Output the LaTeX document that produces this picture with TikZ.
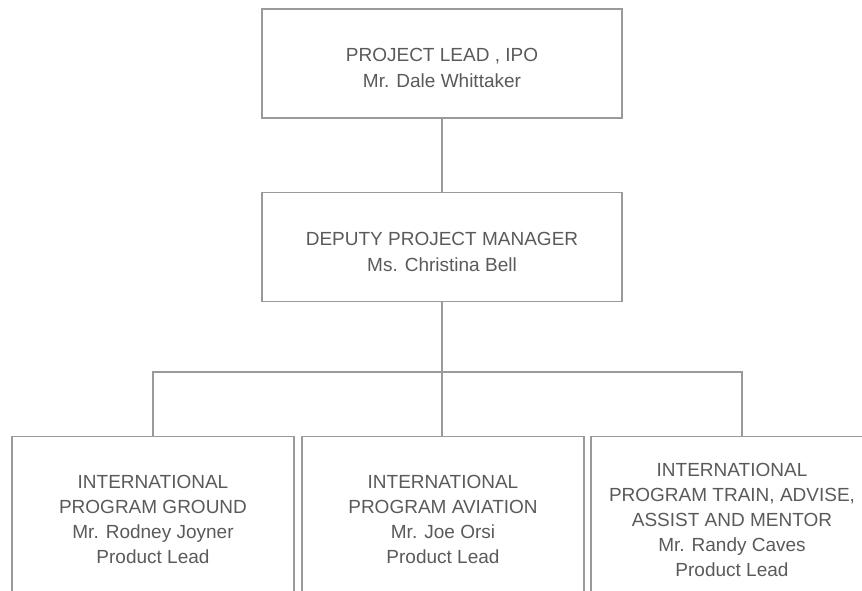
\documentclass[tikz,border=0pt]{standalone}
\usepackage{fontspec}
\setmainfont{Liberation Sans}
\usetikzlibrary{positioning}
\definecolor{linegray}{HTML}{9A9A9A}
\definecolor{textgray}{HTML}{5A5A5A}

\begin{document}
\begin{tikzpicture}[
  x=1pt, y=1pt,
  line width=1.5pt,
  font=\fontsize{19}{26}\selectfont,
  box/.style={
     rectangle,
     draw=linegray,
     text=textgray,
     align=center,
     inner sep=0pt,
     minimum width=360pt,
     minimum height=109pt,
     text height=48pt,
     text depth=0pt
  },
  unit/.style={
     rectangle,
     draw=linegray,
     text=textgray,
     align=center,
     inner sep=0pt,
     minimum width=282pt,
     minimum height=166pt,
     font=\fontsize{19}{25}\selectfont
  },
  link/.style={draw=linegray},
  node distance=73pt
]
   \useasboundingbox (0,0) rectangle (862,590);
   \clip (0,0) rectangle (862,590);

   % The two boxes at the top
   \node[box] (lead) at (442,526.5) {PROJECT LEAD , IPO\\Mr. Dale Whittaker};
   \node[box,below=of lead] (deputy) {DEPUTY PROJECT MANAGER\\Ms. Christina Bell};

   % The three program boxes, cut by the lower edge
   \node[unit] (ground) at (153,70.5) {INTERNATIONAL\\PROGRAM GROUND\\Mr. Rodney Joyner\\Product Lead};
   \node[unit] (aviation) at (443,70.5) {INTERNATIONAL\\PROGRAM AVIATION\\Mr. Joe Orsi\\Product Lead};
   \node[unit] (tama) at (732,70.5) {INTERNATIONAL\\PROGRAM TRAIN, ADVISE,\\ASSIST AND MENTOR\\Mr. Randy Caves\\Product Lead};

   % The connecting lines
   \coordinate (bus) at (442,218);
   \coordinate (tamatop) at ([xshift=10pt]tama.north);
   \draw[link] (lead) -- (deputy);
   \draw[link] (deputy) -- (bus);
   \draw[link] (ground.north) |- (bus) -| (tamatop);
   \draw[link] (bus) -- (bus |- aviation.north);
\end{tikzpicture}
\end{document}
